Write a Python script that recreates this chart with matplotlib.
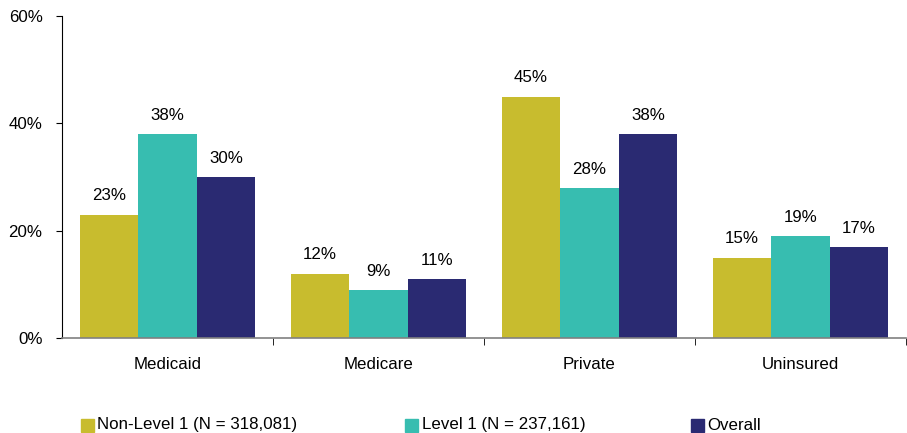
import matplotlib
matplotlib.use("Agg")
import matplotlib.pyplot as plt
from matplotlib.patches import Rectangle
import numpy as np

plt.rcParams['font.family'] = ['Liberation Sans', 'DejaVu Sans']

categories = ["Medicaid", "Medicare", "Private", "Uninsured"]
series_names = ["Non-Level 1 (N = 318,081)", "Level 1 (N = 237,161)", "Overall"]
non_level1 = [23, 12, 45, 15]
level1 = [38, 9, 28, 19]
overall = [30, 11, 38, 17]
colors = ["#C8BC2E", "#37BDB0", "#2A2A72"]

fig = plt.figure(figsize=(9.07, 4.33), dpi=100)
W, H = 907, 433
ax = fig.add_axes([62 / W, (H - 338) / H, (906 - 62) / W, 322 / H])

fs = 12.2
x = np.arange(len(categories))
bw = 0.278
for i, (vals, name, c) in enumerate(zip([non_level1, level1, overall], series_names, colors)):
    bars = ax.bar(x + (i - 1) * bw, vals, bw, color=c, label=name)
    for b, v in zip(bars, vals):
        ax.annotate(f"{v}%", (b.get_x() + b.get_width() / 2, v), xytext=(0, 8),
                    textcoords="offset points", ha="center", va="bottom", fontsize=fs)

ax.set_ylim(0, 60)
ax.set_yticks([0, 20, 40, 60])
ax.set_yticklabels([f"{t}%" for t in [0, 20, 40, 60]], fontsize=fs)
ax.set_xlim(-0.5, -0.5 + (906 - 62) / 212.7)
ax.set_xticks(x)
ax.set_xticklabels(categories, fontsize=fs)
ax.tick_params(axis="x", length=0, pad=14)
ax.set_xticks([0.5, 1.5, 2.5, 3.5], minor=True)
ax.tick_params(axis="x", which="minor", length=5, color="black", direction="out")
ax.tick_params(axis="y", length=4, color="black", direction="out", pad=10)

for s in ["top", "right"]:
    ax.spines[s].set_visible(False)
ax.spines["left"].set_color("black")
ax.spines["bottom"].set_color("#808080")
ax.spines["bottom"].set_linewidth(1.2)

# legend drawn by hand to match the uneven column spacing
leg_y = 425
for name, c, sx, tx in zip(series_names, colors, [81, 405, 691], [97, 422, 707]):
    fig.patches.append(Rectangle((sx / W, (H - leg_y - 6.5) / H), 13 / W, 13 / H,
                                 transform=fig.transFigure, color=c))
    fig.text(tx / W, (H - leg_y) / H, name, fontsize=fs, va="center", ha="left")

fig.savefig("out.png", dpi=100)
